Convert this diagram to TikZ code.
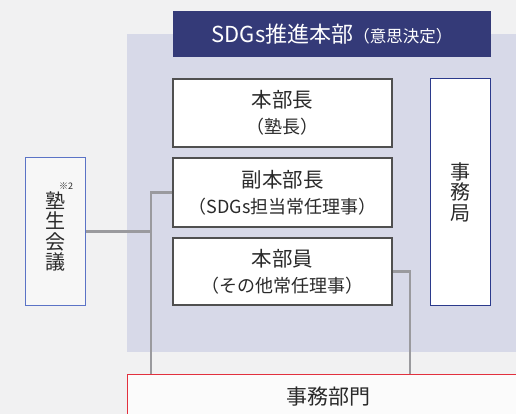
\documentclass[tikz,border=0pt]{standalone}
\usepackage{fontspec}
\setmainfont{Noto Sans CJK JP}
\definecolor{bgc}{HTML}{F1F1F2}
\definecolor{panelc}{HTML}{D7D9E8}
\definecolor{navy}{HTML}{343A78}
\definecolor{txt}{HTML}{2A2A2A}
\definecolor{boxln}{HTML}{505050}
\definecolor{conn}{HTML}{9A9A9E}
\definecolor{bluln}{HTML}{2B3A8C}
\definecolor{lblue}{HTML}{5B73C6}
\definecolor{redln}{HTML}{E2303E}
\tikzset{
  rolebox/.style={draw=boxln, line width=1.2pt, fill=white, minimum width=219pt, align=center, text=txt, inner sep=0pt, font=\fontsize{20.5}{26}\selectfont},
  vbox/.style={line width=1pt, align=center, text=txt, inner sep=0pt, minimum width=60pt, font=\fontsize{20}{20.5}\selectfont},
  connline/.style={draw=conn, line width=2.4pt},
}
\newcommand{\subl}[1]{{\fontsize{18}{26}\selectfont #1}}
\begin{document}
\begin{tikzpicture}[x=1pt,y=-1pt]
\useasboundingbox (0,0) rectangle (516,414);
\clip (0,0) rectangle (516,414);
\fill[bgc] (0,0) rectangle (516,414);
\fill[panelc] (127,34) rectangle (520,352);
\node[fill=navy, text=white, minimum width=318pt, minimum height=46pt, inner sep=0pt, font=\fontsize{22}{24}\selectfont] (head) at (332,34)
  {SDGs推進本部{\fontsize{16.5}{20}\selectfont （意思決定）}};
\node[rolebox, minimum height=68pt] (b1) at (282.5,113)
  {本部長\\\subl{（塾長）}};
\node[rolebox, minimum height=69pt] (b2) at (282.5,192.5)
  {副本部長\\\subl{（SDGs担当常任理事）}};
\node[rolebox, minimum height=67pt] (b3) at (282.5,271.5)
  {本部員\\\subl{（その他常任理事）}};
\node[vbox, draw=bluln, fill=white, minimum height=226pt] (jimu) at (460,192)
  {事\\務\\局};
\node[vbox, draw=lblue, fill=bgc!60!white, minimum height=147pt] (juku) at (55,231.5)
  {塾\\生\\会\\議};
\node[text=txt, inner sep=0pt, font=\fontsize{9}{10}\selectfont] (note) at (66,186) {※2};
\node[draw=redln, line width=1pt, fill=white!97!gray, minimum width=403pt, minimum height=46pt, inner sep=0pt, text=txt, font=\fontsize{21}{24}\selectfont] (bumon) at (328.5,397)
  {事務部門};
\coordinate (vl) at (151,0);
\coordinate (vr) at (410,0);
\draw[connline] (b2.west) -- (b2.west -| vl) -- (bumon.north -| vl);
\draw[connline] (juku.east) -- (juku.east -| vl);
\draw[connline] (b3.east) -- (b3.east -| vr) -- (bumon.north -| vr);
\end{tikzpicture}
\end{document}
